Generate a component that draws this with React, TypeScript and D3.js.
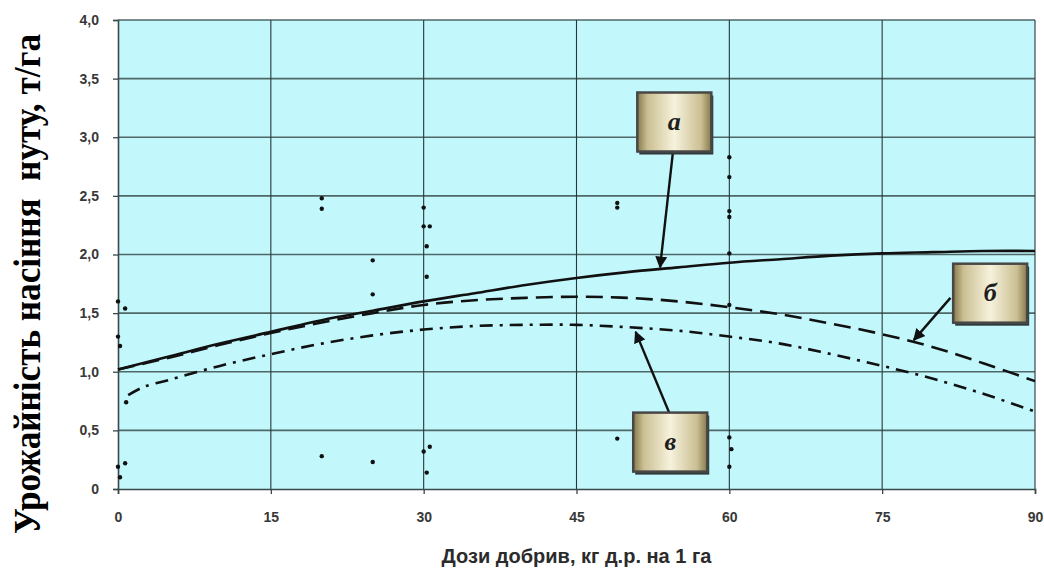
import React, { useEffect, useRef } from 'react';
import * as d3 from 'd3';

// doses (kg a.i./ha) and yields (t/ha)
const curveAX = [0, 5, 10, 15, 20, 25, 30, 35, 40, 45, 50, 55, 60, 65, 70, 75, 80, 85, 90];
const curveAY = [1.02, 1.13, 1.24, 1.34, 1.44, 1.52, 1.6, 1.67, 1.74, 1.8, 1.85, 1.89, 1.93, 1.96, 1.99, 2.01, 2.02, 2.03, 2.03];

const curveBX = [0, 5, 10, 15, 20, 25, 30, 35, 40, 45, 50, 55, 60, 65, 70, 75, 80, 85, 90];
const curveBY = [1.02, 1.12, 1.23, 1.33, 1.42, 1.5, 1.57, 1.61, 1.63, 1.64, 1.63, 1.6, 1.55, 1.49, 1.41, 1.32, 1.21, 1.07, 0.92];

const curveVX = [1, 2.5, 5, 10, 15, 20, 25, 30, 35, 40, 45, 50, 55, 60, 65, 70, 75, 80, 85, 90];
const curveVY = [0.8, 0.87, 0.93, 1.05, 1.15, 1.24, 1.31, 1.36, 1.39, 1.4, 1.4, 1.38, 1.35, 1.3, 1.24, 1.15, 1.05, 0.94, 0.81, 0.66];

const pointX = [0, 0.7, 0, 0.2, 0.8, 0, 0.7, 0.2, 20, 20, 20, 25, 25, 25, 30, 30, 30.6, 30.3, 30.3, 30, 30.6, 30.3, 49, 49, 49, 60, 60, 60, 60, 60, 60, 60, 60.2, 60];
const pointY = [1.6, 1.54, 1.3, 1.22, 0.74, 0.19, 0.22, 0.1, 2.48, 2.39, 0.28, 1.95, 1.66, 0.23, 2.4, 2.24, 2.24, 2.07, 1.81, 0.32, 0.36, 0.14, 2.44, 2.4, 0.43, 2.83, 2.66, 2.37, 2.32, 2.01, 1.57, 0.44, 0.34, 0.19];

const xTicks = [0, 15, 30, 45, 60, 75, 90];
const yTicks = [0, 0.5, 1, 1.5, 2, 2.5, 3, 3.5, 4];

// callouts: label, box centre, arrow start, arrow tip (data units)
const calloutLabels = ['а', 'б', 'в'];
const calloutBox = [[54.6, 3.13], [85.6, 1.67], [54.2, 0.4]];
const calloutFrom = [[54.5, 2.9], [81.7, 1.63], [54.1, 0.65]];
const calloutTo = [[53.2, 1.89], [78.1, 1.27], [50.8, 1.34]];

const W = 1044;
const H = 571;
const margin = { top: 20, right: 9, bottom: 82, left: 118 };

function Chart() {
  const ref = useRef<SVGSVGElement>(null);

  useEffect(() => {
    const svg = d3.select(ref.current);
    svg.selectAll('*').remove();

    const x = d3.scaleLinear().domain([0, 90]).range([margin.left, W - margin.right]);
    const y = d3.scaleLinear().domain([0, 4]).range([H - margin.bottom, margin.top]);

    const defs = svg.append('defs');
    const grad = defs.append('linearGradient').attr('id', 'boxFill').attr('x1', 0).attr('x2', 1).attr('y1', 0).attr('y2', 0);
    [
      [0, '#857a4c'],
      [0.14, '#cbbf93'],
      [0.5, '#f6f2dc'],
      [0.86, '#cbbf93'],
      [1, '#857a4c'],
    ].forEach(([o, c]) => grad.append('stop').attr('offset', o as number).attr('stop-color', c as string));

    defs.append('marker')
      .attr('id', 'head')
      .attr('viewBox', '0 0 10 10')
      .attr('refX', 9)
      .attr('refY', 5)
      .attr('markerWidth', 5)
      .attr('markerHeight', 6)
      .attr('orient', 'auto')
      .attr('markerUnits', 'strokeWidth')
      .append('path')
      .attr('d', 'M0,0 L10,5 L0,10 z')
      .attr('fill', '#111');

    // plot background
    svg.append('rect')
      .attr('x', x(0))
      .attr('y', y(4))
      .attr('width', x(90) - x(0))
      .attr('height', y(0) - y(4))
      .attr('fill', '#c2f7fc');

    // grid
    svg.append('g')
      .selectAll('line')
      .data(yTicks.filter((d) => d > 0))
      .join('line')
      .attr('x1', x(0))
      .attr('x2', x(90))
      .attr('y1', (d) => y(d))
      .attr('y2', (d) => y(d))
      .attr('stroke', '#4f6767')
      .attr('stroke-width', 1.6);

    svg.append('g')
      .selectAll('line')
      .data(xTicks.filter((d) => d > 0))
      .join('line')
      .attr('x1', (d) => x(d))
      .attr('x2', (d) => x(d))
      .attr('y1', y(0))
      .attr('y2', y(4))
      .attr('stroke', '#263838')
      .attr('stroke-width', 1.1);

    // axes
    const yAxis = svg.append('g')
      .attr('transform', `translate(${x(0)},0)`)
      .call(d3.axisLeft(y).tickValues(yTicks).tickSize(5).tickPadding(14)
        .tickFormat((d) => (+d === 0 ? '0' : d3.format('.1f')(+d).replace('.', ','))));
    const xAxis = svg.append('g')
      .attr('transform', `translate(0,${y(0)})`)
      .call(d3.axisBottom(x).tickValues(xTicks).tickSize(5).tickPadding(18).tickFormat(d3.format('d')));

    [yAxis, xAxis].forEach((g) => {
      g.select('.domain').attr('stroke', '#3a4848').attr('stroke-width', 1.6);
      g.selectAll('.tick line').attr('stroke', '#3a4848').attr('stroke-width', 1.3);
      g.selectAll('.tick text')
        .attr('fill', '#383838')
        .attr('font-family', 'Liberation Sans, Arial, sans-serif')
        .attr('font-weight', 'bold')
        .attr('font-size', 14);
    });

    // curves
    const line = d3.line<number>().curve(d3.curveCatmullRom);
    const draw = (xs: number[], ys: number[], dash: string | null) => {
      svg.append('path')
        .attr('d', line.x((_, i) => x(xs[i])).y((d) => y(d))(ys))
        .attr('fill', 'none')
        .attr('stroke', '#111')
        .attr('stroke-width', 2.6)
        .attr('stroke-dasharray', dash);
    };
    draw(curveBX, curveBY, '17,8');
    draw(curveVX, curveVY, '13,7,3,7');
    draw(curveAX, curveAY, null);

    // observations
    svg.append('g')
      .selectAll('circle')
      .data(pointX)
      .join('circle')
      .attr('cx', (d) => x(d))
      .attr('cy', (_, i) => y(pointY[i]))
      .attr('r', 2.2)
      .attr('fill', '#111');

    // callouts
    calloutLabels.forEach((lab, i) => {
      const [bx, by] = calloutBox[i];
      const cx = x(bx);
      const cy = y(by);
      const bw = 74;
      const bh = 59;
      svg.append('line')
        .attr('x1', x(calloutFrom[i][0]))
        .attr('y1', y(calloutFrom[i][1]))
        .attr('x2', x(calloutTo[i][0]))
        .attr('y2', y(calloutTo[i][1]))
        .attr('stroke', '#111')
        .attr('stroke-width', 2.4)
        .attr('marker-end', 'url(#head)');
      svg.append('rect')
        .attr('x', cx - bw / 2 + 2)
        .attr('y', cy - bh / 2 + 3)
        .attr('width', bw)
        .attr('height', bh)
        .attr('fill', '#2f3a3a');
      svg.append('rect')
        .attr('x', cx - bw / 2)
        .attr('y', cy - bh / 2)
        .attr('width', bw)
        .attr('height', bh)
        .attr('fill', 'url(#boxFill)')
        .attr('stroke', '#474747')
        .attr('stroke-width', 2.5);
      svg.append('text')
        .attr('x', cx)
        .attr('y', cy + 8)
        .attr('text-anchor', 'middle')
        .attr('font-family', 'Liberation Serif, Times New Roman, serif')
        .attr('font-style', 'italic')
        .attr('font-weight', 'bold')
        .attr('font-size', 26)
        .attr('fill', '#1e1e1e')
        .text(lab);
    });

    // titles
    svg.append('text')
      .attr('x', (x(0) + x(90)) / 2)
      .attr('y', 563)
      .attr('text-anchor', 'middle')
      .attr('font-family', 'Liberation Sans, Arial, sans-serif')
      .attr('font-weight', 'bold')
      .attr('font-size', 20)
      .attr('fill', '#2b2b2b')
      .text('Дози добрив, кг д.р. на 1 га');

    svg.append('text')
      .attr('transform', 'translate(40,284) rotate(-90)')
      .attr('text-anchor', 'middle')
      .attr('font-family', 'Liberation Serif, Times New Roman, serif')
      .attr('font-weight', 'bold')
      .attr('font-size', 37)
      .attr('textLength', 500)
      .attr('lengthAdjust', 'spacingAndGlyphs')
      .attr('fill', '#000')
      .attr('xml:space', 'preserve')
      .style('white-space', 'pre')
      .text('Урожайність насіння  нуту, т/га');
  }, []);

  return <svg ref={ref} width={W} height={H} style={{ position: 'absolute', left: 0, top: 0, background: '#fff' }} />;
}

export default function App() {
  return <Chart />;
}
